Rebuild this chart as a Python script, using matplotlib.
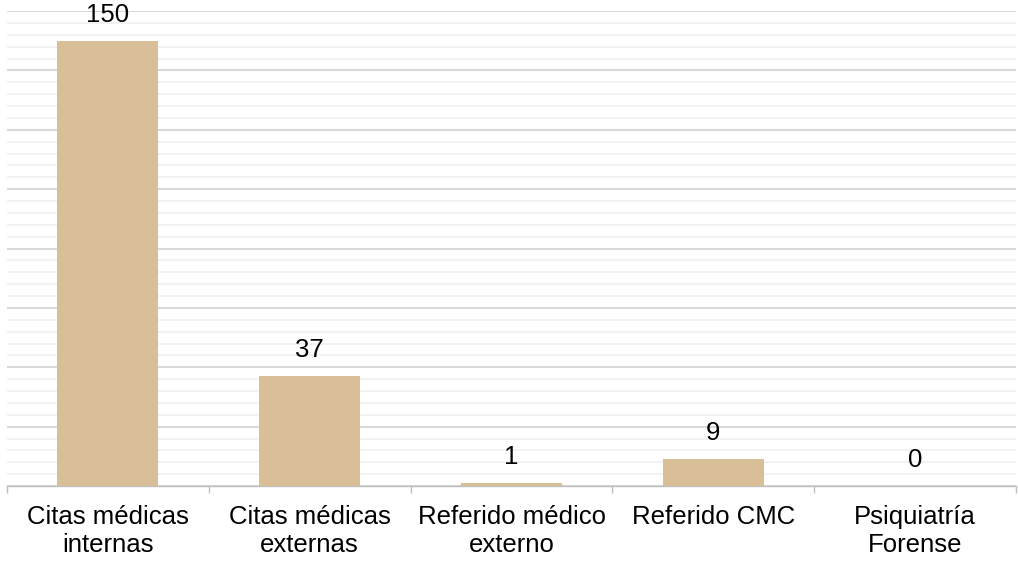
import numpy as np
import matplotlib.pyplot as plt

# Data
categories = ["Citas médicas\ninternas", "Citas médicas\nexternas", "Referido médico\nexterno",
              "Referido CMC", "Psiquiatría\nForense"]
values = [150, 37, 1, 9, 0]

plt.rcParams['font.family'] = ['Liberation Sans', 'DejaVu Sans']

fig = plt.figure(figsize=(10.18, 5.61), dpi=100)
ax = fig.add_axes([7 / 1018, 75 / 561, 1009 / 1018, 475 / 561])

x = np.arange(len(categories))
ax.bar(x, values, width=0.5, color="#D8BF98", zorder=3)

# Value labels above bars
for xi, v in zip(x, values):
    ax.annotate(str(v), (xi, v), xytext=(0, 10), textcoords="offset points",
                ha="center", va="bottom", fontsize=18.5, color="black")

ax.set_xlim(-0.5, len(categories) - 0.5)
ax.set_ylim(0, 160)

# Gridlines: major every 20, minor every 4
ax.set_yticks(np.arange(0, 161, 20))
ax.set_yticks(np.arange(0, 161, 4), minor=True)
ax.grid(axis="y", which="major", color="#D9D9D9", linewidth=1.5, zorder=0)
ax.grid(axis="y", which="minor", color="#F0F0F0", linewidth=1.2, zorder=0)
ax.tick_params(axis="y", which="both", left=False, labelleft=False)

# X axis with boundary ticks
ax.set_xticks(x)
ax.set_xticklabels(categories, fontsize=18.5, linespacing=1.2)
ax.set_xticks(np.arange(-0.5, len(categories), 1.0), minor=True)
ax.tick_params(axis="x", which="major", length=0, pad=14)
ax.tick_params(axis="x", which="minor", length=5, color="#BFBFBF", width=1)

for side in ["top", "right", "left"]:
    ax.spines[side].set_visible(False)
ax.spines["bottom"].set_color("#BFBFBF")
ax.spines["bottom"].set_linewidth(1)

fig.savefig("out.png", dpi=100)
